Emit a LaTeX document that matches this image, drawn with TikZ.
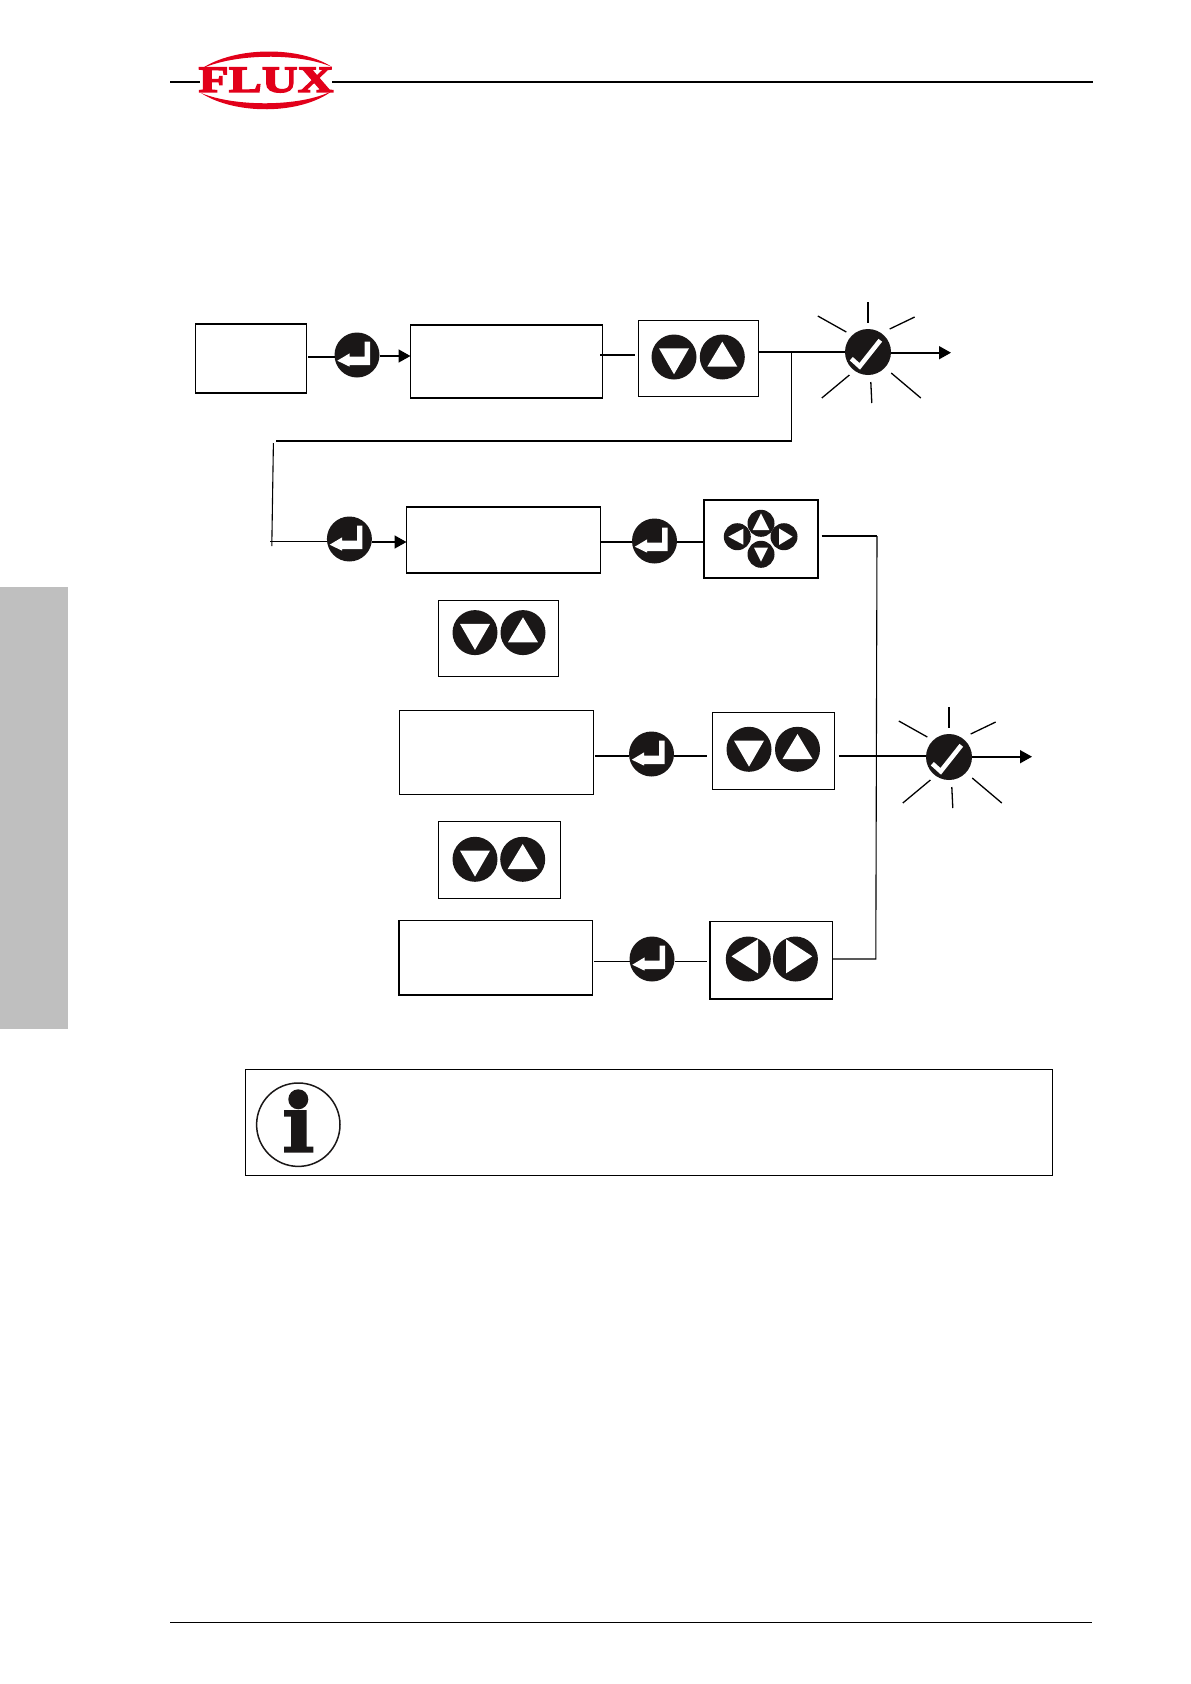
\documentclass[tikz,border=0pt]{standalone}
\usepackage{fontspec}
\usepackage{xcolor}
\usetikzlibrary{arrows.meta, calc}
\newfontfamily\logofont[BoldFeatures={FakeBold=4,FakeStretch=1.34}]{Liberation Serif}
\definecolor{fluxred}{HTML}{E2001A}
\definecolor{keyblack}{HTML}{1A1717}
\definecolor{sidegrey}{HTML}{BFBFBF}
\tikzset{
  panel/.style={draw=black, line width=1.3pt, rectangle, inner sep=0pt, outer sep=0pt},
  keypad/.style={panel, minimum width=120pt, minimum height=76pt},
  keybase/.style={circle, fill=keyblack, inner sep=0pt, outer sep=0pt, minimum size=45pt},
  smallkey/.style={keybase, minimum size=27pt},
  keyicon/.style={fill=white, shift={(path picture bounding box.center)}},
  enterkey/.style={keybase, path picture={\fill[keyicon] (13,-13.3) -- (7.7,-13.3) -- (7.7,1.7) -- (-7.3,1.7) -- (-7.3,-1.7) -- (-19.7,5.7) -- (-7.3,11.7) -- (-7.3,10) -- (13,10) -- cycle;}},
  downkey/.style={keybase, path picture={\fill[keyicon] (-15,-8.7) -- (15,-8.7) -- (0,17.3) -- cycle;}},
  upkey/.style={keybase, path picture={\fill[keyicon] (0,-15.3) -- (15,9.7) -- (-15,9.7) -- cycle;}},
  leftkey/.style={keybase, path picture={\fill[keyicon] (9.7,-19.7) -- (9.7,14.3) -- (-16.8,-2.7) -- cycle;}},
  rightkey/.style={keybase, path picture={\fill[keyicon] (-9.3,-19.7) -- (16.8,-2.7) -- (-9.3,14.3) -- cycle;}},
  sdownkey/.style={smallkey, path picture={\fill[keyicon] (-7,-6.7) -- (7,-6.7) -- (0,7.3) -- cycle;}},
  supkey/.style={smallkey, path picture={\fill[keyicon] (0,-10) -- (8.3,6.7) -- (-8.3,6.7) -- cycle;}},
  sleftkey/.style={smallkey, path picture={\fill[keyicon] (6,-8) -- (6,8) -- (-9,0) -- cycle;}},
  srightkey/.style={smallkey, path picture={\fill[keyicon] (-5,-8.3) -- (8.7,0) -- (-5,8.3) -- cycle;}},
  checkkey/.style={keybase, minimum size=46pt, path picture={\draw[white, line width=4.6pt, shift={(path picture bounding box.center)}] (-16.7,6.7) -- (-8.3,14.3) -- (12.3,-11.7);}},
  wire/.style={draw=black, line width=1.6pt},
  thinwire/.style={draw=black, line width=1.1pt},
  ray/.style={draw=black, line width=1.3pt},
  rule/.style={draw=black, line width=1.6pt},
}
\begin{document}
\begin{tikzpicture}[x=1pt, y=-1pt, >={Stealth[length=12pt,width=13pt,inset=0pt]}]
  \useasboundingbox (0,0) rectangle (1191,1684);

  % Page furniture: side tab, header and footer rules, logo
  \fill[sidegrey] (0,586.5) rectangle (68,1029);
  \coordinate (headL) at (170,81.7);
  \coordinate (headR) at (1093,81.7);
  \coordinate (footL) at (170,1622);
  \coordinate (footR) at (1092,1622);
  \node[inner sep=0pt, text=fluxred, font=\logofont\bfseries\fontsize{37}{37}\selectfont] (logo) at (266,80) {FLUX};
  \draw[rule] (headL) -- (200,81.7);
  \draw[rule] (332,81.7) -- (headR);
  \draw[rule, line width=1pt] (footL) -- (footR);
  \fill[fluxred] (201,69) .. controls (235,46) and (300,46) .. (332,67) .. controls (300,53) and (235,53) .. (201,69) -- cycle;
  \fill[fluxred] (201,93) .. controls (235,115) and (300,115) .. (332,91) .. controls (300,107) and (235,107) .. (201,93) -- cycle;

  % First row
  \node[panel, minimum width=111pt, minimum height=69pt] (boxA) at (250.9,358.5) {};
  \node[enterkey] (entA) at (357,355) {};
  \node[panel, minimum width=192pt, minimum height=73pt] (boxB) at (506.5,361.5) {};
  \node[keypad] (padB) at (698.3,358.5) {};
  \node[downkey] (keyBd) at (674,357) {};
  \node[upkey] (keyBu) at (722.3,357) {};
  \node[checkkey] (chkA) at (868,352) {};

  % Second row
  \node[enterkey] (entB) at (349.4,539) {};
  \node[panel, minimum width=194pt, minimum height=66pt] (boxD) at (503.5,540) {};
  \node[enterkey] (entC) at (654.5,541) {};
  \node[panel, minimum width=114pt, minimum height=78pt] (padE) at (761,539) {};
  \node[sleftkey] (keyEl) at (737.3,536.7) {};
  \node[srightkey] (keyEr) at (784,536.7) {};
  \node[supkey] (keyEu) at (761,523.3) {};
  \node[sdownkey] (keyEd) at (761,554.3) {};

  \node[keypad] (padH) at (498.3,638.7) {};
  \node[downkey] (keyHd) at (475,632.6) {};
  \node[upkey] (keyHu) at (523,632.6) {};

  % Third row
  \node[panel, minimum width=194pt, minimum height=84pt] (boxF) at (496.4,752.3) {};
  \node[enterkey] (entD) at (651.5,754) {};
  \node[keypad, minimum width=122pt, minimum height=77pt] (padG) at (773.5,751.3) {};
  \node[downkey] (keyGd) at (749,749.3) {};
  \node[upkey] (keyGu) at (797.5,749.3) {};
  \node[checkkey] (chkB) at (949,757) {};

  \node[keypad, minimum width=122pt, minimum height=77pt] (padI) at (499.5,860.3) {};
  \node[downkey] (keyId) at (475,859.3) {};
  \node[upkey] (keyIu) at (522.7,859.3) {};

  % Fourth row
  \node[panel, minimum width=193.5pt, minimum height=74.3pt] (boxJ) at (495.8,957.8) {};
  \node[enterkey] (entE) at (652,959) {};
  \node[keypad, minimum width=122.4pt, minimum height=77.3pt] (padJ) at (771.2,960.3) {};
  \node[leftkey] (keyJl) at (748.3,959) {};
  \node[rightkey] (keyJr) at (795.4,959) {};

  % Free ends of the connectors
  \coordinate (bendA) at (791.7,351.7);
  \coordinate (bendB) at (791.7,441);
  \coordinate (bendC) at (276,441);
  \coordinate (bendD) at (273.4,443);
  \coordinate (bendE) at (271.8,546);
  \coordinate (startB) at (270.3,541.3);
  \coordinate (outA) at (951,352.7);
  \coordinate (outB) at (1032,756.7);
  \coordinate (busT) at (877,536);
  \coordinate (busB) at (875.8,959);

  % Row one connectors
  \draw[thinwire] (308,357) -- (entA.west |- 0,357);
  \draw[wire, ->] (entA.east |- 0,356) -- (boxB.west |- 0,356);
  \draw[wire] (600,355) -- (635,355);
  \draw[wire] (padB.east |- bendA) -- (bendA) -- (chkA.west |- bendA);
  \draw[wire, ->] (chkA.east |- outA) -- (outA);
  \draw[thinwire] (bendA) -- (bendB);
  \draw[wire] (bendB) -- (bendC);
  \draw[thinwire] (bendD) -- (bendE);
  \foreach \ax/\ay/\bx/\by in {0/-50/0/-29, 21.7/-23/46.7/-35, -21.7/-20/-50.2/-36, -18.6/23/-46.2/46, 2.8/30/3.8/51, 23.2/21/52.8/46}{
    \draw[ray] ([shift={(\ax,\ay)}]chkA.center) -- ([shift={(\bx,\by)}]chkA.center);
    \draw[ray] ([shift={(\ax,\ay)}]chkB.center) -- ([shift={(\bx,\by)}]chkB.center);
  }

  % Row two connectors
  \draw[thinwire] (startB) -- (entB.west |- startB);
  \draw[wire, ->] (entB.east |- 0,542) -- (boxD.west |- 0,542);
  \draw[thinwire] (boxD.east |- 0,542) -- (entC.west |- 0,542);
  \draw[thinwire] (entC.east |- 0,542) -- (padE.west |- 0,542);

  % Row three connectors
  \draw[wire] (595,755.7) -- (entD.west |- 0,755.7);
  \draw[wire] (entD.east |- 0,755.7) -- (707.4,755.7);
  \draw[wire] (838.8,755.7) -- (chkB.west |- 0,755.7);
  \draw[wire, ->] (chkB.east |- outB) -- (outB);

  % Row four connectors and the bus
  \draw[thinwire] (594,961.3) -- (entE.west |- 0,961.3);
  \draw[thinwire] (entE.east |- 0,961.3) -- (706.6,961.3);
  \draw[wire] (821.7,536) -- (busT);
  \draw[thinwire] (busT) -- (busB) -- (padJ.east |- busB);

  % Note box
  \node[panel, line width=1pt, minimum width=807.5pt, minimum height=106pt] (noteBox) at (649,1122.3) {};
  \node[circle, draw=keyblack, line width=1.5pt, minimum size=83.4pt, inner sep=0pt] (noteIcon) at (298.3,1124.7) {};
  \node[circle, fill=keyblack, minimum size=20pt, inner sep=0pt] (noteDot) at (298.3,1099.3) {};
  \fill[keyblack] (284,1110) -- (306.7,1110) -- (306.7,1146.7) -- (313.3,1146.7) -- (313.3,1152.7) -- (284,1152.7) -- (284,1146.7) -- (291,1146.7) -- (291,1116.7) -- (284,1116.7) -- cycle;
\end{tikzpicture}
\end{document}
